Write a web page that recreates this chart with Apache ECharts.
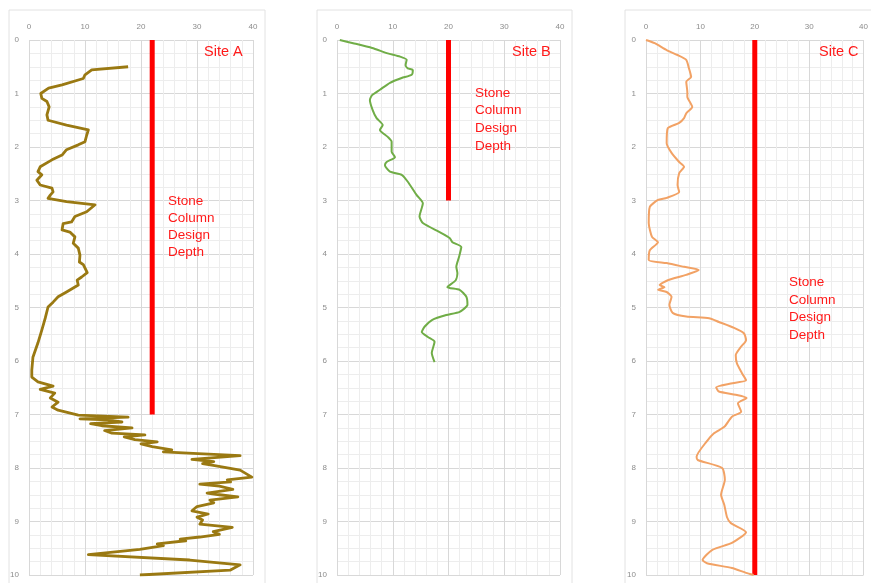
<!DOCTYPE html>
<html>
<head>
<meta charset="utf-8">
<script src="https://cdn.jsdelivr.net/npm/echarts@6/dist/echarts.min.js"></script>
<style>
  html, body { margin: 0; padding: 0; background: #fff; }
  #chart { width: 871px; height: 583px; }
</style>
</head>
<body>
<div id="chart"></div>
<script>
// [value, depth] pairs
var siteA = [[17.7,0.5],[11.2,0.56],[10,0.65],[9.7,0.72],[5.9,0.84],[3.5,0.9],[2.1,1.0],[2.3,1.09],[3.2,1.15],[3.6,1.25],[3.2,1.4],[3.4,1.5],[6.7,1.59],[10.6,1.68],[10.3,1.78],[10,1.9],[8.8,1.96],[6.7,2.05],[5.9,2.15],[4.1,2.24],[2,2.37],[1.6,2.46],[2.3,2.52],[1.4,2.62],[2,2.71],[4.1,2.77],[4.3,2.84],[3.8,2.9],[3.4,2.96],[6.7,3.02],[11.8,3.08],[10.3,3.21],[8.2,3.3],[7.6,3.4],[6.1,3.43],[5.9,3.55],[7.3,3.59],[8.2,3.68],[7.9,3.8],[8.8,3.89],[9.1,4.02],[9,4.15],[9.7,4.2],[10.4,4.35],[9.4,4.43],[8.6,4.49],[8.8,4.58],[6.7,4.71],[5.2,4.8],[4.3,4.9],[3.4,4.99],[2.9,5.2],[2.3,5.42],[1.6,5.66],[0.7,5.93],[0.5,6.17],[0.5,6.3],[1.6,6.39],[4.3,6.47],[2,6.53],[4.6,6.6],[3.8,6.69],[5.2,6.77],[4.1,6.86],[5.2,6.92],[8.8,7.01],[17.7,7.05],[9.1,7.08],[14,7.1],[16.6,7.14],[11,7.17],[13,7.21],[18.4,7.25],[13.5,7.3],[14.8,7.35],[20.7,7.38],[17,7.42],[18.9,7.47],[22.9,7.51],[20,7.55],[22,7.6],[25.5,7.66],[24,7.7],[30.2,7.73],[37.7,7.77],[29.1,7.84],[33,7.88],[31,7.92],[32.9,7.95],[37.7,8.04],[39.8,8.17],[35.4,8.22],[36,8.26],[30.5,8.3],[34,8.34],[36.4,8.4],[31.8,8.47],[34,8.5],[37.3,8.54],[32.3,8.6],[33,8.65],[30,8.72],[29.1,8.8],[32,8.86],[30,8.92],[31,8.97],[30.5,9.05],[36.3,9.11],[32.9,9.19],[34,9.24],[30.5,9.29],[27,9.33],[28,9.36],[22.9,9.42],[24,9.45],[19.8,9.52],[10.6,9.62],[28.7,9.72],[37.7,9.81],[35.9,9.91],[19.8,10.0]];

var siteB = [[0.5,0],[2.9,0.06],[6.3,0.15],[9.1,0.25],[11.3,0.31],[12.5,0.37],[12.3,0.47],[12.7,0.53],[13.6,0.56],[13.4,0.65],[11.6,0.71],[9.5,0.8],[7.7,0.93],[6.3,1.03],[5.9,1.12],[6.4,1.31],[7.1,1.46],[8.2,1.59],[7.7,1.68],[9.1,1.81],[9.8,1.9],[9.8,2.09],[10.4,2.19],[8.9,2.28],[8.6,2.34],[9.5,2.46],[11.6,2.52],[12.7,2.65],[14.3,2.9],[15.4,3.05],[14.8,3.3],[15.4,3.42],[18.4,3.59],[20.2,3.7],[20.7,3.78],[22.3,3.87],[21.9,4.05],[21.4,4.24],[21.6,4.36],[21.3,4.49],[19.8,4.62],[22,4.67],[23.2,4.8],[23.4,4.95],[22,5.08],[19.6,5.14],[17.1,5.23],[15.7,5.36],[15.2,5.46],[16.3,5.55],[17.5,5.64],[17,5.85],[17.5,6.02]];

var siteC = [[0,0],[1.6,0.06],[3.8,0.19],[5.8,0.28],[7.4,0.37],[7.9,0.53],[8.3,0.69],[7.4,0.78],[7.6,0.97],[7.6,1.06],[8.5,1.25],[7.4,1.37],[7,1.46],[6.1,1.55],[4,1.65],[3.8,1.93],[4.7,2.11],[6.1,2.28],[7,2.37],[6.1,2.49],[5.8,2.71],[6.1,2.84],[3.8,2.95],[2.2,2.99],[0.7,3.12],[0.5,3.42],[1.1,3.68],[2.2,3.78],[0.7,3.93],[0.5,4.11],[3.8,4.17],[7,4.24],[9.7,4.3],[7.4,4.39],[4,4.49],[2.5,4.58],[3.4,4.62],[2.2,4.67],[3.8,4.71],[4.7,4.8],[4.3,4.95],[4.9,5.1],[7.4,5.17],[11.6,5.2],[13.4,5.27],[16.2,5.38],[18,5.48],[18.4,5.61],[17.5,5.73],[16.5,5.89],[16.7,6.04],[17.6,6.22],[18.4,6.36],[15.6,6.42],[12.9,6.49],[13.4,6.57],[16.5,6.63],[18.5,6.69],[16.9,6.79],[17.5,6.95],[15.8,7.04],[14.4,7.23],[12.5,7.35],[11.1,7.51],[9.3,7.79],[9.5,7.85],[14,8],[14.5,8.22],[13.8,8.5],[14.4,8.69],[14.9,8.92],[15.6,9.03],[18.4,9.2],[15.8,9.4],[12.2,9.53],[10.4,9.72],[11.2,9.78],[15.8,9.87],[18.4,9.96],[19.8,10]];

// design depth: [value, top depth, bottom depth]
var designA = [22, 0, 7];
var designB = [20, 0, 3];
var designC = [20, 0, 10];

var siteNames = ['Site A', 'Site B', 'Site C'];
var xTicks = [0, 40, 10];
var yTicks = [0, 10, 1];

var chart = echarts.init(document.getElementById('chart'));

var lefts = [29, 337, 646];
var widths = [224, 223, 222];
var lineColors = ['#9a7912', '#70ad47', '#f2a265'];
var lineWidths = [2.8, 2, 2];
var sites = [siteA, siteB, siteC];
var designs = [designA, designB, designC];

var grids = [], xAxes = [], yAxes = [], series = [];
for (var i = 0; i < 3; i++) {
  grids.push({ left: lefts[i], top: 40, width: widths[i], height: 535 });
  xAxes.push({
    gridIndex: i, type: 'value', position: 'top',
    min: xTicks[0], max: xTicks[1], interval: xTicks[2],
    axisLine: { show: false }, axisTick: { show: false },
    axisLabel: { color: '#8c8c8c', fontSize: 8, margin: 9, fontFamily: 'Liberation Sans' },
    splitLine: { show: true, lineStyle: { color: '#d8d8d8', width: 1 } },
    minorTick: { show: false, splitNumber: 5 },
    minorSplitLine: { show: true, lineStyle: { color: '#ededed', width: 1 } }
  });
  yAxes.push({
    gridIndex: i, type: 'value', inverse: true,
    min: yTicks[0], max: yTicks[1], interval: yTicks[2],
    axisLine: { show: false }, axisTick: { show: false },
    axisLabel: { color: '#8c8c8c', fontSize: 8, margin: 10, fontFamily: 'Liberation Sans' },
    splitLine: { show: true, lineStyle: { color: '#d8d8d8', width: 1 } },
    minorTick: { show: false, splitNumber: 4 },
    minorSplitLine: { show: true, lineStyle: { color: '#ededed', width: 1 } }
  });
  series.push({
    name: siteNames[i] + ' design', type: 'line', xAxisIndex: i, yAxisIndex: i,
    data: [[designs[i][0], designs[i][1]], [designs[i][0], designs[i][2]]],
    showSymbol: false, lineStyle: { color: '#ff0000', width: 5, cap: 'butt' }, z: 3
  });
  series.push({
    name: siteNames[i], type: 'line', xAxisIndex: i, yAxisIndex: i,
    data: sites[i], showSymbol: false, smooth: i === 0 ? false : 0.2,
    lineStyle: { color: lineColors[i], width: lineWidths[i], join: 'round' }, z: 4
  });
}

var red = '#ff1a1a';
var labelFont = 'Liberation Sans';
function boxText(x, y, txt, size, lh) {
  return { type: 'text', left: x, top: y, z: 10,
    style: { text: txt, fill: red, font: size + 'px ' + labelFont, lineHeight: lh } };
}

chart.setOption({
  animation: false,
  grid: grids,
  xAxis: xAxes,
  yAxis: yAxes,
  series: series,
  graphic: [
    { type: 'rect', shape: { x: 9, y: 10, width: 256, height: 590 }, style: { fill: 'none', stroke: '#e2e2e2', lineWidth: 1 }, z: -1 },
    { type: 'rect', shape: { x: 317, y: 10, width: 255, height: 590 }, style: { fill: 'none', stroke: '#e2e2e2', lineWidth: 1 }, z: -1 },
    { type: 'rect', shape: { x: 625, y: 10, width: 260, height: 590 }, style: { fill: 'none', stroke: '#e2e2e2', lineWidth: 1 }, z: -1 },
    boxText(204, 44, 'Site A', 14.5, 16),
    boxText(512, 44, 'Site B', 14.5, 16),
    boxText(819, 44, 'Site C', 14.5, 16),
    boxText(168, 193, 'Stone\nColumn\nDesign\nDepth', 13.5, 17),
    boxText(475, 84, 'Stone\nColumn\nDesign\nDepth', 13.5, 17.7),
    boxText(789, 274, 'Stone\nColumn\nDesign\nDepth', 13.5, 17.5)
  ]
});
</script>
</body>
</html>
